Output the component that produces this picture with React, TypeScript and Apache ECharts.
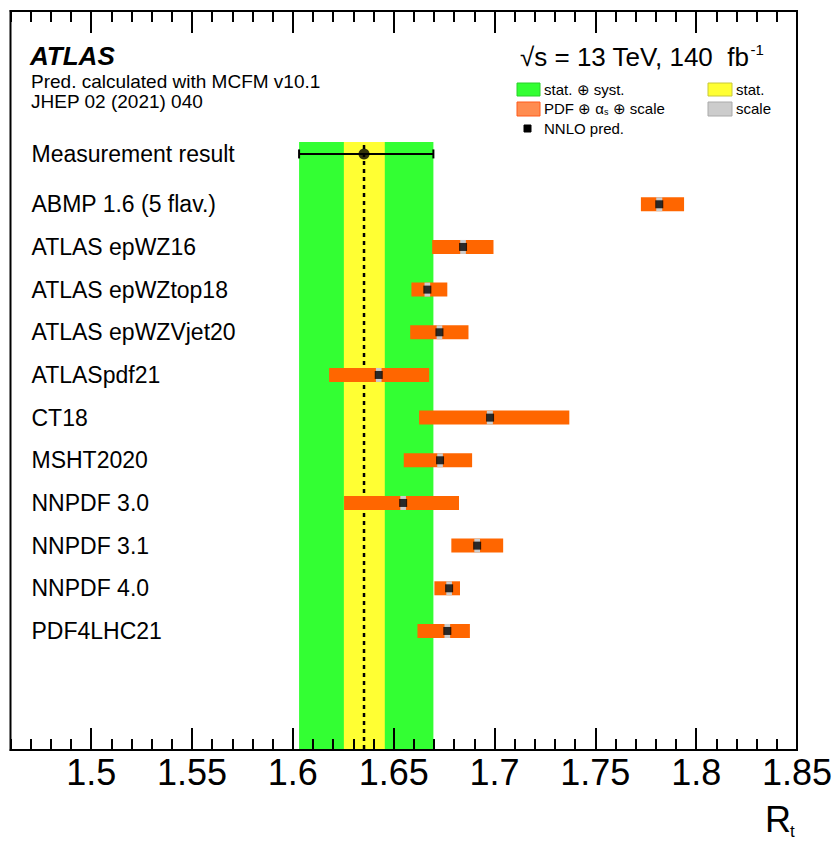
import React, { useEffect, useRef } from "react";
import * as echarts from "echarts";

// ---- data ----
const measLabel = "Measurement result";
const measValue = 1.6353;
const measTotal = [1.6031, 1.6697]; // stat ⊕ syst
const measStat = [1.6253, 1.6456]; // stat

const predNames = [
  "ABMP 1.6 (5 flav.)",
  "ATLAS epWZ16",
  "ATLAS epWZtop18",
  "ATLAS epWZVjet20",
  "ATLASpdf21",
  "CT18",
  "MSHT2020",
  "NNPDF 3.0",
  "NNPDF 3.1",
  "NNPDF 4.0",
  "PDF4LHC21",
];
const predCentral = [1.7817, 1.6844, 1.6667, 1.6727, 1.6426, 1.6978, 1.673, 1.6547, 1.6914, 1.6775, 1.6766];
const predLow = [1.7726, 1.6691, 1.6588, 1.6582, 1.618, 1.6626, 1.655, 1.6254, 1.6786, 1.6702, 1.6618];
const predHigh = [1.794, 1.6995, 1.6766, 1.6871, 1.6676, 1.7371, 1.6889, 1.6824, 1.7043, 1.6829, 1.6878];
const scaleLow = [1.7802, 1.683, 1.6653, 1.6713, 1.6412, 1.6962, 1.6716, 1.6533, 1.69, 1.6761, 1.6752];
const scaleHigh = [1.7832, 1.6858, 1.6681, 1.6741, 1.644, 1.6992, 1.6744, 1.6561, 1.6928, 1.6789, 1.678];

const xMajorTicks = [1.5, 1.55, 1.6, 1.65, 1.7, 1.75, 1.8, 1.85];
const X_MIN = 1.46;
const X_MAX = 1.85;

// ---- layout (row coordinates on the hidden y axis) ----
const MEAS_ROW = -0.18;
const BAND_TOP = -0.46;
const Y_MIN = -3.53;
const Y_MAX = 13.79;

const FONT = "'Liberation Sans', Arial, Helvetica, sans-serif";

const predRows = predNames.map((_, i) => i + 1);

function buildOption(): any {
  const tickAxisBase = {
    type: "value",
    min: X_MIN,
    max: X_MAX,
    gridIndex: 0,
    z: 10,
    splitLine: { show: false },
  };
  const majorAxis = (position: string, showLabel: boolean) => ({
    ...tickAxisBase,
    position,
    axisLine: { show: true, onZero: false, lineStyle: { color: "#000", width: 2 } },
    axisTick: {
      show: true,
      inside: true,
      length: 22,
      customValues: xMajorTicks,
      lineStyle: { color: "#000", width: 2 },
    },
    axisLabel: {
      show: showLabel,
      customValues: xMajorTicks,
      formatter: (v: number) => String(+Number(v).toFixed(2)),
      fontSize: 36,
      fontFamily: FONT,
      color: "#000",
      margin: 4,
    },
  });
  const minorAxis = (position: string) => ({
    ...tickAxisBase,
    position,
    interval: 0.01,
    axisLine: { show: false, onZero: false },
    axisTick: { show: true, inside: true, length: 11, lineStyle: { color: "#000", width: 2 } },
    axisLabel: { show: false },
  });

  const legendText = (x: number, y: number, text: string) => ({
    type: "text",
    x,
    y,
    style: { text, fill: "#000", font: `15px ${FONT}`, verticalAlign: "middle" },
  });
  const legendBox = (x: number, y: number, w: number, h: number, fill: string, stroke: string) => ({
    type: "rect",
    shape: { x, y, width: w, height: h },
    style: { fill, stroke, lineWidth: 1 },
  });

  return {
    animation: false,
    backgroundColor: "#fff",
    grid: {
      left: 10.5,
      right: 40,
      top: 11,
      bottom: 93,
      show: true,
      borderColor: "#000",
      borderWidth: 2,
      backgroundColor: "transparent",
      containLabel: false,
      outerBoundsMode: "none",
    },
    xAxis: [majorAxis("bottom", true), minorAxis("bottom"), majorAxis("top", false), minorAxis("top")],
    yAxis: {
      type: "value",
      inverse: true,
      min: Y_MIN,
      max: Y_MAX,
      axisLine: { show: false, onZero: false },
      axisTick: { show: false },
      splitLine: { show: false },
      axisLabel: {
        inside: true,
        margin: 21,
        align: "left",
        customValues: [MEAS_ROW, ...predRows],
        formatter: (v: number) =>
          Math.abs(v - MEAS_ROW) < 1e-6 ? measLabel : predNames[Math.round(v) - 1] ?? "",
        fontSize: 23,
        fontFamily: FONT,
        color: "#000",
      },
    },
    graphic: [
      {
        type: "text",
        x: 30,
        y: 56,
        style: { text: "ATLAS", fill: "#000", font: `italic bold 26px ${FONT}`, verticalAlign: "middle" },
      },
      {
        type: "text",
        x: 31,
        y: 81,
        style: { text: "Pred. calculated with MCFM v10.1", fill: "#000", font: `19px ${FONT}`, verticalAlign: "middle" },
      },
      {
        type: "text",
        x: 31,
        y: 101,
        style: { text: "JHEP 02 (2021) 040", fill: "#000", font: `19px ${FONT}`, verticalAlign: "middle" },
      },
      {
        type: "text",
        x: 520,
        y: 57,
        style: {
          text: "{a|√s = 13 TeV, 140  fb}{b|-1}",
          verticalAlign: "middle",
          rich: {
            a: { fontSize: 26, fontFamily: FONT, fill: "#000" },
            b: { fontSize: 15, fontFamily: FONT, fill: "#000", padding: [0, 0, 16, 1] },
          },
        },
      },
      legendBox(517, 83, 23, 13, "#33ff33", "#2ad02a"),
      legendText(544, 89, "stat. ⊕ syst."),
      legendBox(708, 83, 24, 13, "#ffff33", "#c8c83a"),
      legendText(736, 89, "stat."),
      legendBox(517, 102, 23, 14, "#ff8c50", "#ff5a1a"),
      {
        type: "text",
        x: 544,
        y: 108,
        style: {
          text: "{a|PDF ⊕ α}{s|s}{a| ⊕ scale}",
          verticalAlign: "middle",
          rich: {
            a: { fontSize: 15, fontFamily: FONT, fill: "#000" },
            s: { fontSize: 9, fontFamily: FONT, fill: "#000", padding: [8, 0, 0, 0] },
          },
        },
      },
      legendBox(708, 102, 24, 14, "#cccccc", "#aaaaaa"),
      legendText(736, 108, "scale"),
      legendBox(524, 125, 7, 7, "#000", "#000"),
      legendText(544, 128, "NNLO pred."),
      {
        type: "text",
        x: 765,
        y: 819,
        style: { text: "R", fill: "#000", font: `36px ${FONT}`, verticalAlign: "middle" },
      },
      {
        type: "text",
        x: 790,
        y: 831,
        style: { text: "t", fill: "#000", font: `17px ${FONT}`, verticalAlign: "middle" },
      },
    ],
    series: [
      {
        name: "stat ⊕ syst band",
        type: "custom",
        xAxisIndex: 0,
        z: 1,
        data: [[measTotal[0], measTotal[1]]],
        encode: { x: [0, 1] },
        renderItem: (_p: any, api: any) => {
          const a = api.coord([api.value(0), BAND_TOP]);
          const b = api.coord([api.value(1), Y_MAX]);
          return { type: "rect", shape: { x: a[0], y: a[1], width: b[0] - a[0], height: b[1] - a[1] }, style: { fill: "#33ff33" } };
        },
      },
      {
        name: "stat band",
        type: "custom",
        xAxisIndex: 0,
        z: 2,
        data: [[measStat[0], measStat[1]]],
        encode: { x: [0, 1] },
        renderItem: (_p: any, api: any) => {
          const a = api.coord([api.value(0), BAND_TOP]);
          const b = api.coord([api.value(1), Y_MAX]);
          return { type: "rect", shape: { x: a[0], y: a[1], width: b[0] - a[0], height: b[1] - a[1] }, style: { fill: "#ffff33" } };
        },
      },
      {
        name: "central line",
        type: "custom",
        xAxisIndex: 0,
        z: 3,
        data: [[measValue]],
        encode: { x: 0 },
        renderItem: (_p: any, api: any) => {
          const a = api.coord([api.value(0), BAND_TOP]);
          const b = api.coord([api.value(0), Y_MAX]);
          return {
            type: "line",
            shape: { x1: a[0], y1: a[1] + 3, x2: b[0], y2: b[1] },
            style: { stroke: "#000", lineWidth: 2.5, lineDash: [4, 4] },
          };
        },
      },
      {
        name: "measurement error",
        type: "custom",
        xAxisIndex: 0,
        z: 4,
        data: [[measTotal[0], measTotal[1], MEAS_ROW]],
        encode: { x: [0, 1], y: 2 },
        renderItem: (_p: any, api: any) => {
          const a = api.coord([api.value(0), api.value(2)]);
          const b = api.coord([api.value(1), api.value(2)]);
          const st = { stroke: "#000", lineWidth: 2 };
          return {
            type: "group",
            children: [
              { type: "line", shape: { x1: a[0], y1: a[1], x2: b[0], y2: b[1] }, style: st },
              { type: "line", shape: { x1: a[0], y1: a[1] - 4.5, x2: a[0], y2: a[1] + 4.5 }, style: st },
              { type: "line", shape: { x1: b[0], y1: b[1] - 4.5, x2: b[0], y2: b[1] + 4.5 }, style: st },
            ],
          };
        },
      },
      {
        name: "measurement",
        type: "scatter",
        xAxisIndex: 0,
        z: 5,
        symbol: "circle",
        symbolSize: 11,
        itemStyle: { color: "#000" },
        data: [[measValue, MEAS_ROW]],
      },
      {
        name: "PDF ⊕ αs ⊕ scale",
        type: "custom",
        xAxisIndex: 0,
        z: 6,
        data: predNames.map((_, i) => [predLow[i], predHigh[i], predRows[i]]),
        encode: { x: [0, 1], y: 2 },
        renderItem: (_p: any, api: any) => {
          const a = api.coord([api.value(0), api.value(2)]);
          const b = api.coord([api.value(1), api.value(2)]);
          return { type: "rect", shape: { x: a[0], y: a[1] - 7, width: b[0] - a[0], height: 14 }, style: { fill: "#ff6600" } };
        },
      },
      {
        name: "scale",
        type: "custom",
        xAxisIndex: 0,
        z: 7,
        data: predNames.map((_, i) => [scaleLow[i], scaleHigh[i], predRows[i]]),
        encode: { x: [0, 1], y: 2 },
        renderItem: (_p: any, api: any) => {
          const a = api.coord([api.value(0), api.value(2)]);
          const b = api.coord([api.value(1), api.value(2)]);
          return { type: "rect", shape: { x: a[0], y: a[1] - 7, width: b[0] - a[0], height: 14 }, style: { fill: "#cccccc" } };
        },
      },
      {
        name: "NNLO pred.",
        type: "scatter",
        xAxisIndex: 0,
        z: 8,
        symbol: "rect",
        symbolSize: 8,
        itemStyle: { color: "#000" },
        data: predNames.map((_, i) => [predCentral[i], predRows[i]]),
      },
    ],
  };
}

export default function App() {
  const ref = useRef<HTMLDivElement>(null);
  useEffect(() => {
    if (!ref.current) return;
    const chart = echarts.init(ref.current, null, { renderer: "svg" });
    chart.setOption(buildOption());
    return () => chart.dispose();
  }, []);
  return (
    <div
      ref={ref}
      style={{ position: "fixed", left: 0, top: 0, width: 837, height: 843, background: "#fff" }}
    />
  );
}
